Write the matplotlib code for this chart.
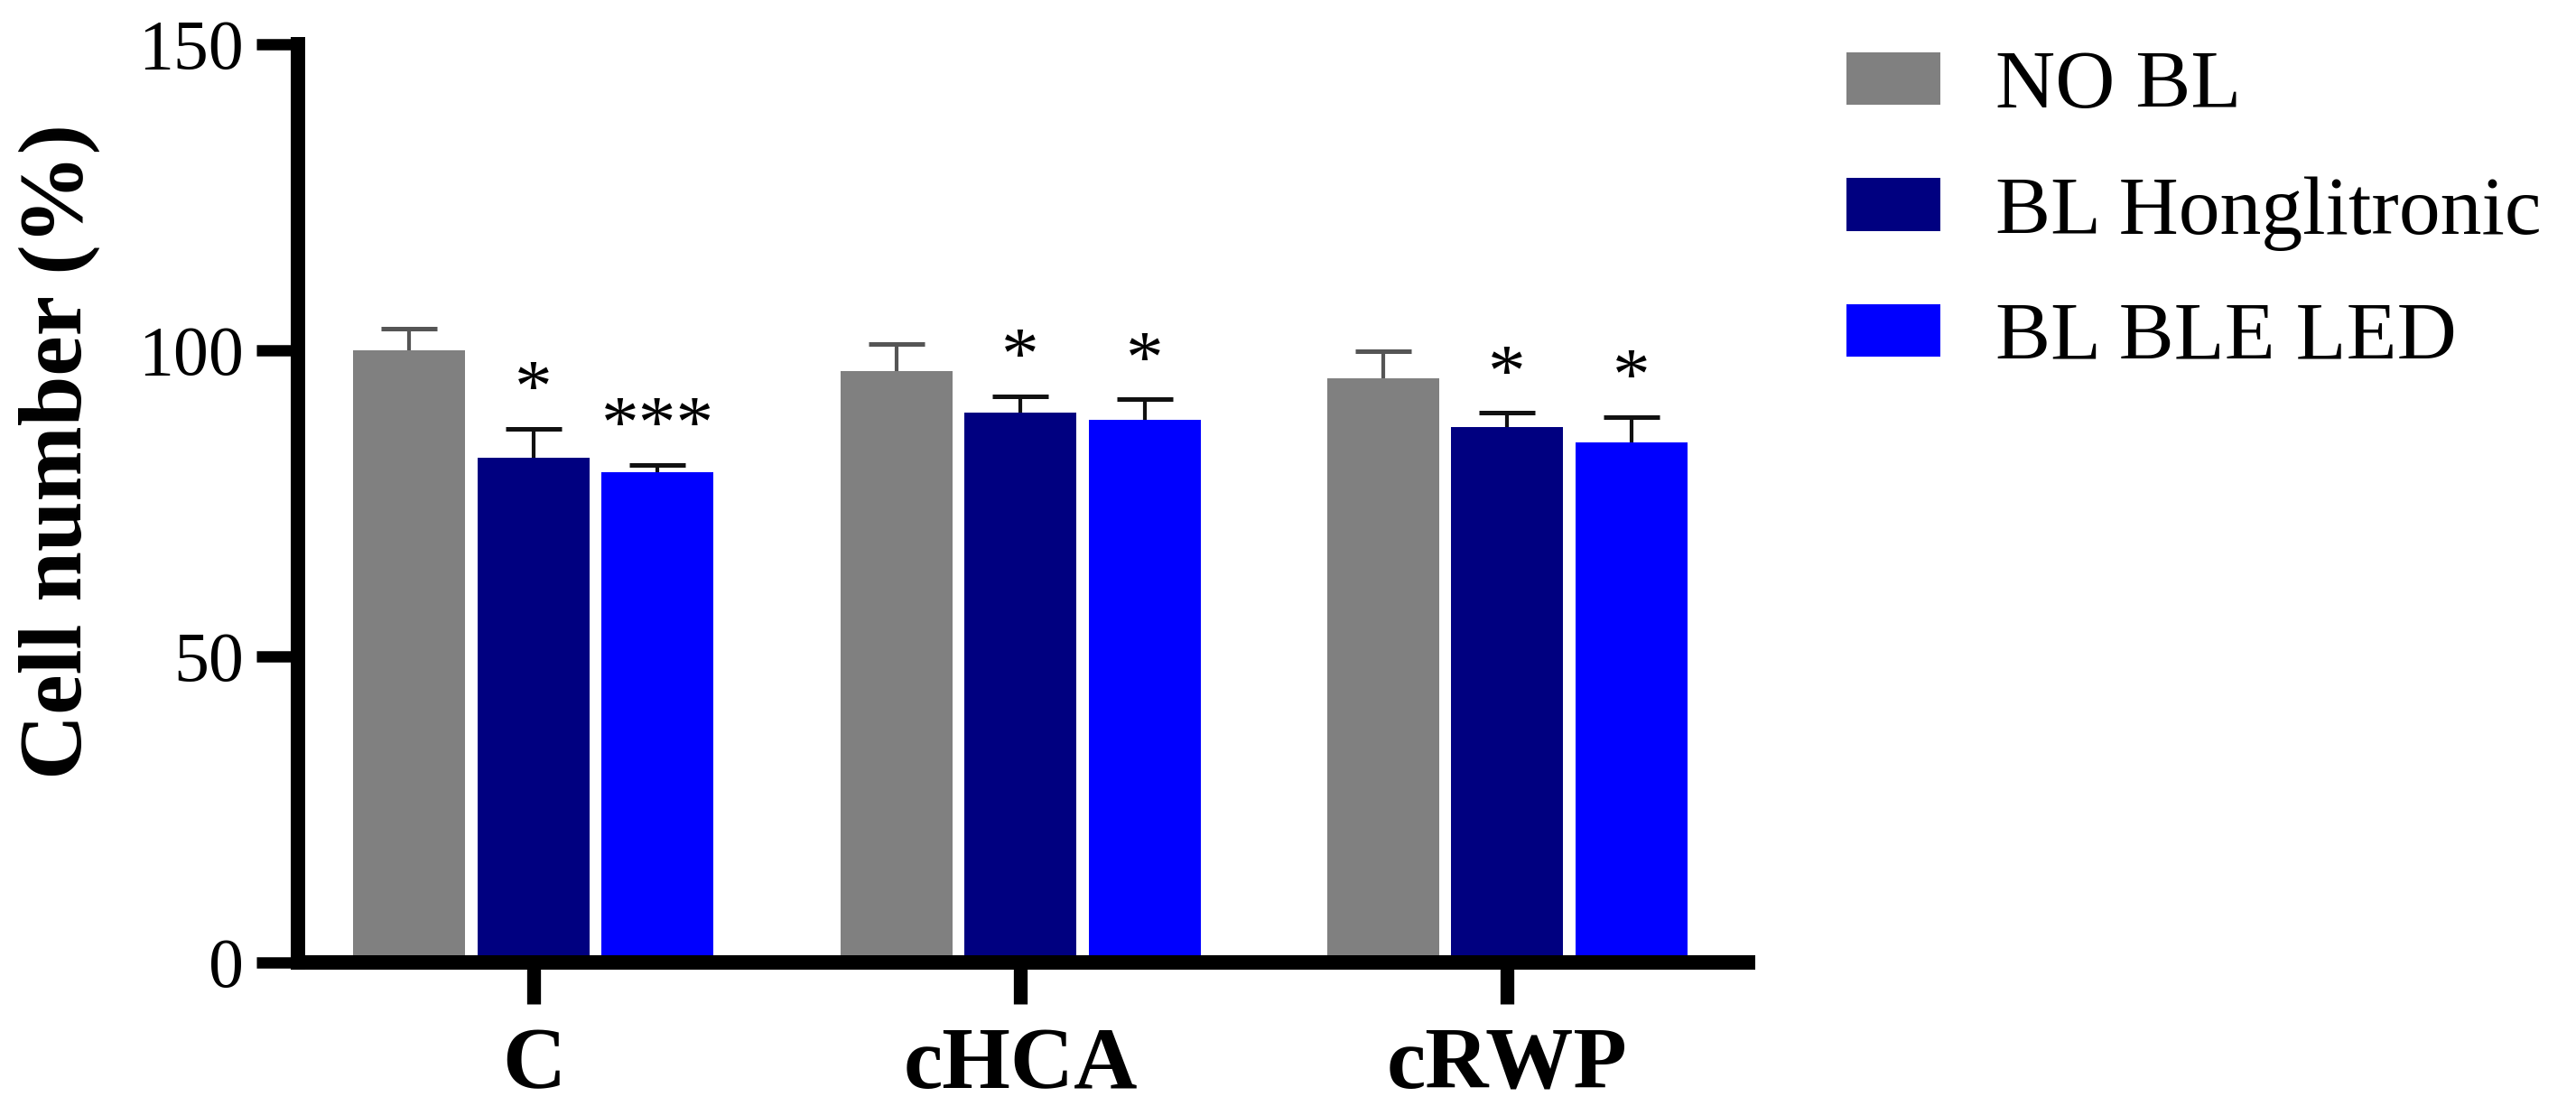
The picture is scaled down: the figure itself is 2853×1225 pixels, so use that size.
import numpy as np
import matplotlib
matplotlib.use("Agg")
import matplotlib.pyplot as plt

OUTPUT = "out.png"

# ── data ──────────────────────────────────────────────────────────────────────
groepen = ["C", "cHCA", "cRWP"]
reeksen = ["NO BL", "BL Honglitronic", "BL BLE LED"]

no_bl = [100.0, 96.6, 95.4]
bl_hong = [82.5, 89.8, 87.5]
bl_ble = [80.1, 88.7, 85.0]

sd_no_bl = [3.5, 4.4, 4.5]
sd_hong = [4.7, 2.7, 2.3]
sd_ble = [1.2, 3.3, 4.1]

sterren_no_bl = ["", "", ""]
sterren_hong = ["*", "*", "*"]
sterren_ble = ["***", "*", "*"]

# ── stijl ─────────────────────────────────────────────────────────────────────
plt.rcParams["font.family"] = ["Liberation Serif", "DejaVu Serif"]

KLEUREN = ["#808080", "#000080", "#0000ff"]
ECOLOR = ["#555555", "#111111", "#111111"]

W, H = 2853, 1225
fig = plt.figure(figsize=(W / 100, H / 100), dpi=100)

ax_left = 330 / W
ax_bottom = (H - 1066) / H
ax_top = (H - 49) / H
ax_right = 1936 / W
ax = fig.add_axes([ax_left, ax_bottom, ax_right - ax_left, ax_top - ax_bottom])

x = np.arange(len(groepen))
breedte = 0.230
stap = 0.255

waarden = [no_bl, bl_hong, bl_ble]
fouten = [sd_no_bl, sd_hong, sd_ble]
sterren = [sterren_no_bl, sterren_hong, sterren_ble]

for i, (naam, vals, sd, st) in enumerate(zip(reeksen, waarden, fouten, sterren)):
    pos = x + (i - 1) * stap
    bars = ax.bar(
        pos, vals, width=breedte, color=KLEUREN[i], label=naam,
        yerr=[np.zeros(len(sd)), sd],
        error_kw=dict(ecolor=ECOLOR[i], elinewidth=3, capsize=22, capthick=3.6),
    )
    # alleen de bovenste cap tonen (GraphPad-stijl)
    _, caplines, _ = bars.errorbar.lines
    caplines[0].set_visible(False)
    for p, v, s, label in zip(pos, vals, sd, st):
        if label:
            ax.text(p, v + s + 5.8, label, ha="center", va="center",
                    fontsize=60, color="black")

ax.set_xlim(-0.484, 2.495)
ax.set_ylim(0, 150)
ax.set_yticks([0, 50, 100, 150])
ax.set_xticks(x)
ax.set_xticklabels(groepen, fontsize=70, fontweight="bold")
ax.tick_params(axis="y", labelsize=56, length=33, width=9, pad=10)
ax.tick_params(axis="x", length=33, width=11, pad=18)

for side in ("top", "right"):
    ax.spines[side].set_visible(False)
for side in ("left", "bottom"):
    ax.spines[side].set_linewidth(11.5)

fig.text(66 / W, (H - 500) / H, "Cell number (%)", rotation=90,
         ha="center", va="center", fontsize=72, fontweight="bold")

fs_leg = 66
px_per_em = fs_leg * 100 / 72
fig.legend(
    loc="upper left",
    bbox_to_anchor=(2045 / W, (H - 56) / H),
    frameon=False, fontsize=fs_leg,
    borderpad=0, borderaxespad=0,
    handlelength=104 / px_per_em, handleheight=55 / px_per_em,
    handletextpad=61 / px_per_em, labelspacing=0.62,
)

fig.savefig(OUTPUT, dpi=100)
